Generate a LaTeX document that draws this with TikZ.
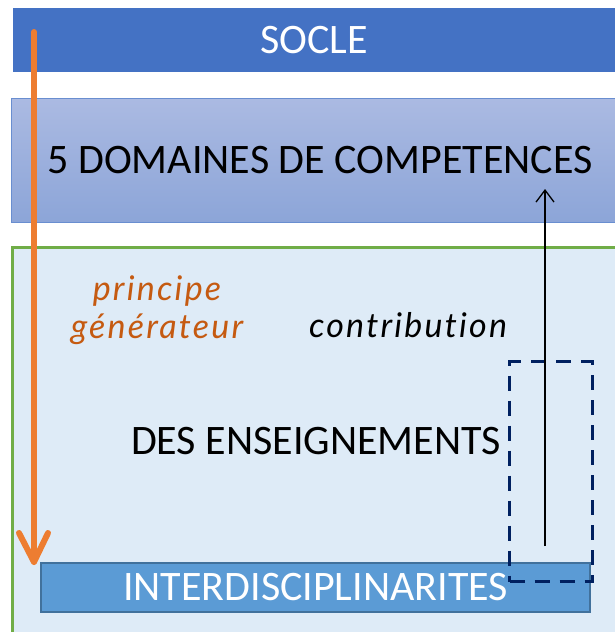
\documentclass[tikz,border=0pt]{standalone}
\usepackage{fontspec}
\setmainfont{Carlito}
\newfontfamily\hand{Lato}[LetterSpace=6.5, Ligatures={NoCommon,NoContextual}]
\usetikzlibrary{arrows.meta}
\definecolor{socleblue}{RGB}{68,114,196}
\definecolor{domtop}{RGB}{171,186,226}
\definecolor{dombot}{RGB}{140,165,216}
\definecolor{enfill}{RGB}{222,235,247}
\definecolor{engreen}{RGB}{112,173,71}
\definecolor{intfill}{RGB}{91,155,213}
\definecolor{intborder}{RGB}{65,113,156}
\definecolor{navy}{RGB}{0,32,96}
\definecolor{orangearr}{RGB}{237,125,49}
\definecolor{orangetxt}{RGB}{197,90,17}
\tikzset{
  bigtext/.style={font=\fontsize{42}{46}\selectfont},
  handtext/.style={font=\hand\itshape\fontsize{34}{38}\selectfont},
}
\begin{document}
\begin{tikzpicture}[x=1pt,y=-1pt]
\useasboundingbox (0,0) rectangle (615,632);
\clip (0,0) rectangle (615,632);
\node[bigtext, text=white, fill=socleblue, minimum width=602pt, minimum height=64pt, inner sep=0pt, anchor=center] (socle) at (314,40) {SOCLE};
\node[bigtext, top color=domtop, bottom color=dombot, draw=socleblue!80, line width=1pt, minimum width=618pt, minimum height=124pt, inner sep=0pt] (dom) at (320,160) {5 DOMAINES DE COMPETENCES};
\node[fill=enfill, draw=engreen, line width=2.5pt, minimum width=640pt, minimum height=420pt, inner sep=0pt, anchor=north west] (ens) at (11,246) {};
\node[bigtext, inner sep=0pt] (enstext) at (316,441) {DES ENSEIGNEMENTS};
\node[bigtext, text=white, fill=intfill, draw=intborder, line width=2pt, minimum width=549pt, minimum height=49pt, inner sep=0pt] (inter) at (315.5,587.5) {INTERDISCIPLINARITES};
\node[handtext, text=orangetxt, align=center, inner sep=0pt] (princ) at (157,310) {principe\\générateur};
\node[handtext, inner sep=0pt] (contrib) at (408,325) {contribution};
\node[draw=navy, line width=3pt, dash pattern=on 15pt off 10pt, minimum width=83pt, minimum height=220pt, inner sep=0pt, anchor=north west] (dash) at (508,360) {};
\coordinate (ostart) at (34,32);
\coordinate (otip) at (34,562);
\draw[orangearr, line width=6pt, line cap=round] (ostart) -- (otip);
\draw[orangearr, line width=6pt, line cap=round, line join=round] ([shift={(-15,-29)}]otip) -- (otip) -- ([shift={(14,-29)}]otip);
\coordinate (bstart) at (545,546);
\coordinate (btip) at (545,189);
\draw[line width=1.3pt, -{Straight Barb[length=12pt,width=18pt]}] (bstart) -- (btip);
\end{tikzpicture}
\end{document}
